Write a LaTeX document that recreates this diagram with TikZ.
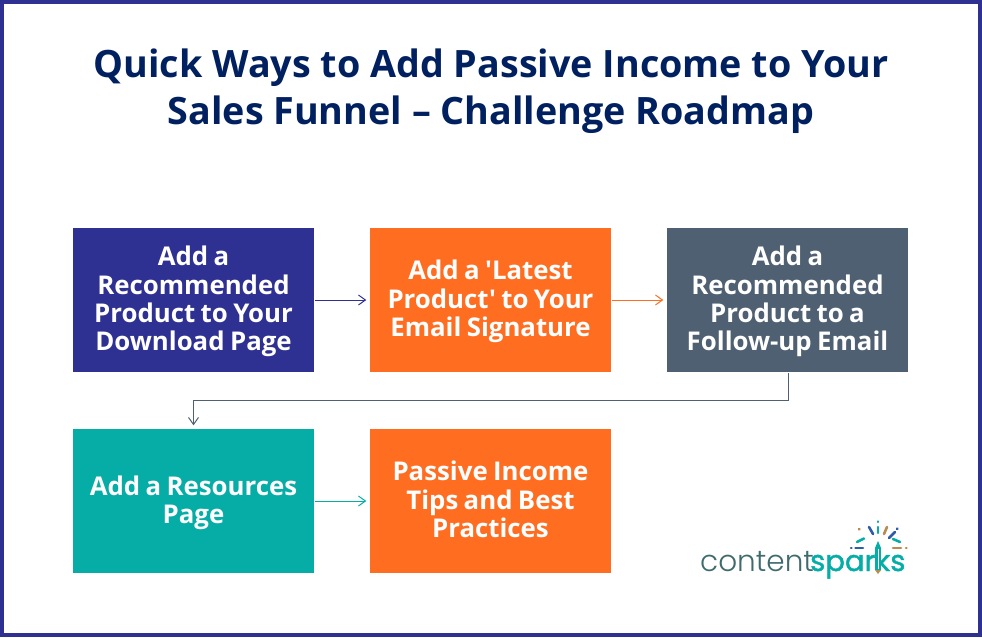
\documentclass[tikz,border=0pt]{standalone}
\usepackage{fontspec}
\setmainfont[Ligatures=TeXOff]{Open Sans}
\newfontfamily\logofont{Poppins}
\newfontfamily\logofontl{Poppins Light}
\definecolor{navy}{HTML}{002060}
\definecolor{indigo}{HTML}{2E3192}
\definecolor{orangeb}{HTML}{FF6D21}
\definecolor{slate}{HTML}{4F6073}
\definecolor{tealb}{HTML}{05ADA6}
\definecolor{logogray}{HTML}{3F6B6E}
\definecolor{logotan}{HTML}{B98B4E}
\definecolor{logoblue}{HTML}{2F5DA5}
\usetikzlibrary{arrows.meta}
\newcommand\lastln[1]{\raisebox{0pt}[\height][3pt]{#1}}
\newcommand\tightwords{\spaceskip=5.4pt\relax}
\tikzset{
  box/.style={minimum width=241pt,minimum height=144pt,inner sep=3pt,text width=235pt,align=center,text=white,font=\fontsize{25.8}{28.4}\selectfont\bfseries,execute at begin node=\tightwords},
  conn/.style={line width=1pt,-{Straight Barb[length=7pt,width=10pt,line width=1pt]},shorten >=3.5pt,shorten <=1pt},
  ray/.style={line width=2.6pt,line cap=round},
}
\begin{document}
\begin{tikzpicture}[x=1pt,y=-1pt]
\useasboundingbox (0,0) rectangle (982,637);
\node[draw=indigo,line width=4pt,minimum width=978pt,minimum height=633pt,inner sep=0pt] (frame) at (491,318.5) {};
\node[align=center,text=navy,font=\fontsize{37.7}{47}\selectfont\bfseries] (title) at (491,91) {Quick Ways to Add Passive Income to Your\\Sales Funnel – Challenge Roadmap};
\node[box,fill=indigo] (a) at (193.5,300) {Add a\\Recommended\\Product to Your\\\lastln{Download Page}};
\node[box,fill=orangeb] (b) at (490.5,300) {Add a 'Latest\\Product' to Your\\\lastln{Email Signature}};
\node[box,fill=slate] (c) at (787.5,300) {Add a\\Recommended\\Product to a\\\lastln{Follow-up Email}};
\node[box,fill=tealb] (d) at (193.5,501) {Add a Resources\\\lastln{Page}};
\node[box,fill=orangeb] (e) at (490.5,501) {Passive Income\\Tips and Best\\\lastln{Practices}};
\coordinate (bend) at (490,400.5);
\draw[conn,indigo] (a) -- (b);
\draw[conn,orangeb] (b) -- (c);
\draw[conn,slate] ([xshift=0.5pt]c.south) |- (bend) -| (d.north);
\draw[conn,tealb] (d) -- (e);
% logo
\node[anchor=base west,inner sep=0pt,text=logogray,font=\logofontl\fontsize{29.5}{30}\selectfont] (logoa) at (700,571) {content};
\node[anchor=base west,inner sep=0pt,text=tealb,font=\logofont\fontsize{29}{30}\selectfont] (logob) at (810,571) {\addfontfeature{FakeBold=1.5}sparks};
\draw[ray,tealb] (878,521.5) -- (878,522);
\draw[ray,tealb] (878,527) -- (878,533);
\draw[ray,logotan] (887,527) -- (884,534);
\draw[ray,logotan] (859,529) -- (859.5,529.5);
\draw[ray,logoblue] (869,527) -- (873,534);
\draw[ray,logoblue] (897,529) -- (897.5,528.5);
\draw[ray,logoblue] (895,532) -- (889,538);
\draw[ray,tealb] (857,542) -- (864,538.5);
\draw[ray,tealb] (893,539) -- (900,542);
\draw[ray,logoblue] (851,548) -- (851.5,548);
\draw[ray,logoblue] (855.5,548) -- (863,548);
\draw[ray,logotan] (893,548) -- (901,548);
\draw[ray,logotan] (906,548) -- (906.5,548);
\fill[tealb] (878,541) -- (881,548) -- (875,548) -- cycle;
\fill[tealb] (875,548) rectangle (881,570);
\fill[logotan] (875,570) -- (881,570) -- (878,574) -- cycle;
\fill[white] (877.5,549) rectangle (878.5,569);
\end{tikzpicture}
\end{document}
